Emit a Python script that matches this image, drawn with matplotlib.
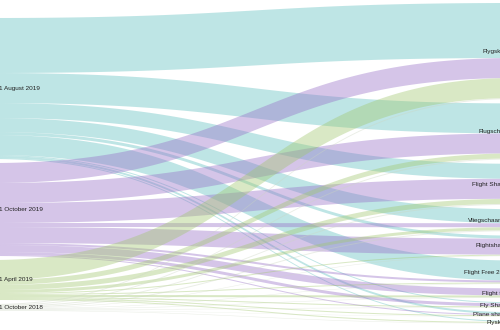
import numpy as np
import matplotlib.pyplot as plt

# source nodes (left column) and target nodes (right column)
sources = ['1 August 2019', '1 October 2019', '1 April 2019', '1 October 2018']
targets = ['Flygskam', 'Flugscham', 'Flight Shame', 'Vliegschaamte', 'Flightshame',
           'Flight Free 2020', 'Flight free', 'Fly Shame', 'Plane shame', 'Flyskam']

# link values, one list per source, in target order
aug_2019 = [55, 30, 15, 14, 3, 20, 0, 1, 2, 1]
oct_2019 = [20, 20, 20, 4, 16, 2, 7, 3, 1, 0]
apr_2019 = [20, 5, 5, 3, 1, 1, 2, 1, 1, 1]
oct_2018 = [1, 1, 1, 1, 0.5, 0.5, 0.5, 0.5, 0.3, 0.5]

colors = [(0.37, 0.75, 0.75), (0.59, 0.43, 0.78), (0.63, 0.78, 0.43), (0.80, 0.84, 0.76)]

flows = np.array([aug_2019, oct_2019, apr_2019, oct_2018], dtype=float)


def ribbon(ax, x0, x1, y0, y1, w, color):
    t = np.linspace(0, 1, 120)
    xm = (x0 + x1) / 2
    x = (1 - t)**3 * x0 + 3 * (1 - t)**2 * t * xm + 3 * (1 - t) * t**2 * xm + t**3 * x1
    s = 3 * t**2 - 2 * t**3
    y = y0 + (y1 - y0) * s
    ax.fill_between(x, y, y + w, color=color, alpha=0.4, linewidth=0)


fig = plt.figure(figsize=(5, 3.3), dpi=100)
ax = fig.add_axes([0, 0, 1, 1])
ax.set_xlim(0, 500)
ax.set_ylim(330, 0)
ax.axis('off')

x_left, x_right = -8, 516

# stack nodes
src_tot = flows.sum(axis=1)
tgt_tot = flows.sum(axis=0)
src_top = 18 + np.concatenate([[0], np.cumsum(src_tot[:-1] + 4)])
tgt_top = 3 + np.concatenate([[0], np.cumsum(tgt_tot[:-1] + 4.4)])

src_off = src_top.copy()
tgt_off = tgt_top.copy()
for i in range(len(sources)):
    for j in range(len(targets)):
        w = flows[i, j]
        if w <= 0:
            continue
        ribbon(ax, x_left, x_right, src_off[i], tgt_off[j], w, colors[i])
        src_off[i] += w
        tgt_off[j] += w

font = 'Liberation Sans'
for i, name in enumerate(sources):
    ax.text(x_left + 7, src_top[i] + src_tot[i] / 2, name, ha='left', va='center',
            fontsize=4.6, family=font, color='#222222', clip_on=True)
for j, name in enumerate(targets):
    ax.text(x_right - 6, tgt_top[j] + tgt_tot[j] / 2, name, ha='right', va='center',
            fontsize=4.6, family=font, color='#222222', clip_on=True)

fig.savefig('out.png', dpi=100)
